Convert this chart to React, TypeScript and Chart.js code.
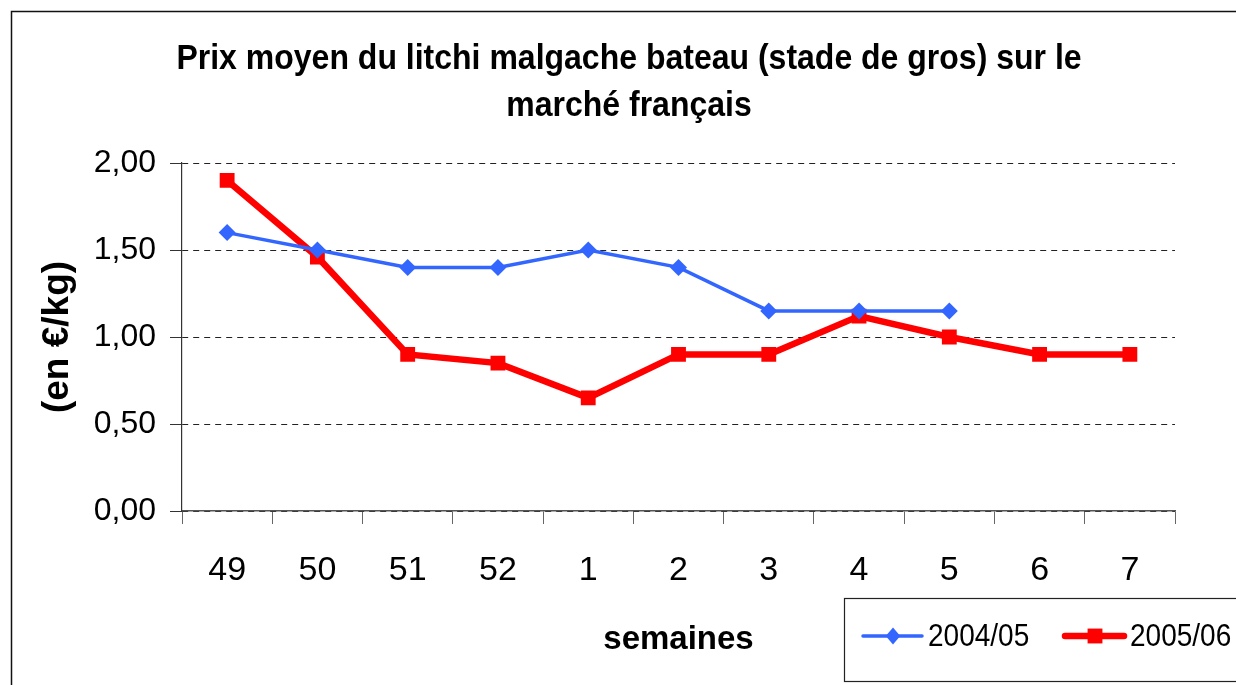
import React, { useEffect, useRef } from "react";
import { Chart, registerables } from "chart.js";

Chart.register(...registerables);

const weeks = ["49", "50", "51", "52", "1", "2", "3", "4", "5", "6", "7"];
const series2004 = [1.6, 1.5, 1.4, 1.4, 1.5, 1.4, 1.15, 1.15, 1.15, null, null];
const series2005 = [1.9, 1.46, 0.9, 0.85, 0.65, 0.9, 0.9, 1.12, 1.0, 0.9, 0.9];
const seriesLabels = ["2004/05", "2005/06"];
const titleLines = ["Prix moyen du litchi malgache bateau (stade de gros) sur le", "marché français"];
const yTitle = "(en €/kg)";
const xTitle = "semaines";

const FONT = "'Liberation Sans', Arial, sans-serif";
const BLUE = "#3366FF";
const RED = "#FF0000";

function stretchedText(ctx: any, text: string, x: number, y: number, sy: number) {
  ctx.save();
  ctx.translate(x, y);
  ctx.scale(1, sy);
  ctx.fillText(text, 0, 0);
  ctx.restore();
}

const decorPlugin = {
  id: "decor",
  beforeDraw(chart: any) {
    const ctx = chart.ctx;
    ctx.save();
    ctx.fillStyle = "#ffffff";
    ctx.fillRect(0, 0, chart.width, chart.height);
    ctx.restore();
  },
  afterDraw(chart: any) {
    const ctx = chart.ctx;
    ctx.save();
    // outer frame
    ctx.strokeStyle = "#111";
    ctx.lineWidth = 1.5;
    ctx.strokeRect(11.5, 11.5, chart.width + 20, chart.height + 20);
    // title
    ctx.fillStyle = "#000";
    ctx.font = `bold 32px ${FONT}`;
    ctx.textAlign = "center";
    ctx.textBaseline = "alphabetic";
    stretchedText(ctx, titleLines[0], 629, 69, 1.12);
    stretchedText(ctx, titleLines[1], 629, 116, 1.12);
    // legend box
    ctx.lineWidth = 1.2;
    ctx.strokeStyle = "#222";
    ctx.strokeRect(844.5, 598.5, 500, 83);
    const ds = chart.data.datasets;
    const entries = [
      { x: 863, ds: ds[0] },
      { x: 1065, ds: ds[1] },
    ];
    const ly = 636;
    entries.forEach((e) => {
      const d = e.ds;
      ctx.strokeStyle = d.borderColor;
      ctx.lineWidth = d.borderWidth;
      ctx.lineCap = "round";
      ctx.beginPath();
      ctx.moveTo(e.x, ly);
      ctx.lineTo(e.x + 59, ly);
      ctx.stroke();
      ctx.fillStyle = d.pointBackgroundColor;
      const cx = e.x + 30;
      if (d.pointStyle === "rectRot") {
        const r = d.pointRadius;
        ctx.beginPath();
        ctx.moveTo(cx, ly - r);
        ctx.lineTo(cx + r * 0.85, ly);
        ctx.lineTo(cx, ly + r);
        ctx.lineTo(cx - r * 0.85, ly);
        ctx.closePath();
        ctx.fill();
      } else {
        const s = d.pointRadius * Math.SQRT1_2;
        ctx.fillRect(cx - s, ly - s, 2 * s, 2 * s);
      }
      ctx.fillStyle = "#000";
      ctx.font = `28px ${FONT}`;
      ctx.textAlign = "left";
      ctx.textBaseline = "middle";
      stretchedText(ctx, d.label, e.x + 65, ly + 1, 1.12);
    });
    ctx.restore();
  },
};

export default function App() {
  const ref = useRef<HTMLCanvasElement | null>(null);
  useEffect(() => {
    if (!ref.current) return;
    const chart = new Chart(ref.current, {
      type: "line",
      data: {
        labels: weeks,
        datasets: [
          {
            label: seriesLabels[0],
            data: series2004,
            borderColor: BLUE,
            backgroundColor: BLUE,
            pointBackgroundColor: BLUE,
            pointBorderColor: BLUE,
            borderWidth: 3.5,
            pointStyle: "rectRot",
            pointRadius: 8.5,
            pointBorderWidth: 0,
            tension: 0,
            spanGaps: false,
          },
          {
            label: seriesLabels[1],
            data: series2005,
            borderColor: RED,
            backgroundColor: RED,
            pointBackgroundColor: RED,
            pointBorderColor: RED,
            borderWidth: 6.5,
            pointStyle: "rect",
            pointRadius: 10.5,
            pointBorderWidth: 0,
            tension: 0,
          },
        ],
      },
      options: {
        responsive: false,
        animation: false,
        devicePixelRatio: 1,
        layout: { padding: { top: 163, right: 61, left: 0, bottom: 0 } },
        plugins: {
          legend: { display: false },
          title: { display: false },
          tooltip: { enabled: false },
        },
        scales: {
          x: {
            offset: true,
            afterFit: (s: any) => {
              s.height = 174;
            },
            grid: {
              offset: true,
              drawOnChartArea: false,
              drawTicks: true,
              tickLength: 13,
              color: "#666",
              lineWidth: 1,
            },
            border: { display: true, color: "#555", width: 1.5 },
            ticks: {
              color: "#000",
              font: { family: FONT, size: 34 },
              padding: 26,
              maxRotation: 0,
              autoSkip: false,
            },
            title: {
              display: true,
              text: xTitle,
              color: "#000",
              font: { family: FONT, size: 33, weight: "bold" },
              padding: { top: 0, bottom: 25 },
            },
          },
          y: {
            min: 0,
            max: 2,
            afterFit: (s: any) => {
              s.width = 182;
            },
            grid: {
              color: "#222",
              lineWidth: 1,
              drawTicks: true,
              tickLength: 12,
              tickColor: "#333",
            },
            border: { display: true, color: "#333", width: 1.2, dash: [6, 5] },
            ticks: {
              stepSize: 0.5,
              color: "#000",
              font: { family: FONT, size: 32 },
              padding: 14,
              callback: (v: any) => Number(v).toFixed(2).replace(".", ","),
            },
            title: {
              display: true,
              text: yTitle,
              color: "#000",
              font: { family: FONT, size: 37, weight: "bold" },
              padding: 36,
            },
          },
        },
      },
      plugins: [decorPlugin],
    });
    return () => chart.destroy();
  }, []);
  return (
    <div style={{ position: "absolute", left: 0, top: 0, width: 1236, height: 685 }}>
      <canvas ref={ref} width={1236} height={685} style={{ display: "block" }} />
    </div>
  );
}
